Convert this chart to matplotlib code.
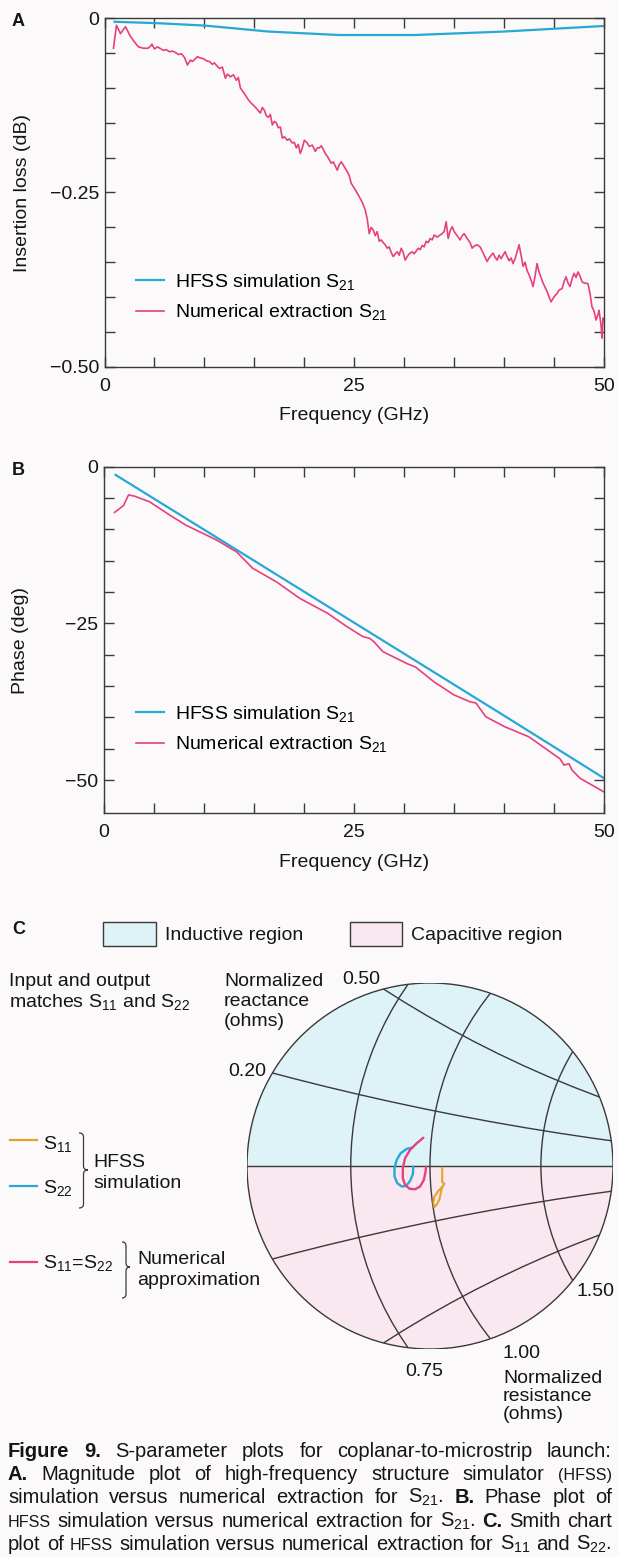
import numpy as np
import matplotlib
matplotlib.use('Agg')
import matplotlib.pyplot as plt
from matplotlib.patches import Circle, Rectangle, Wedge, PathPatch
from matplotlib.path import Path
from matplotlib.lines import Line2D
from matplotlib.ticker import FixedLocator, FixedFormatter

W, H = 619, 1557
plt.rcParams['font.family'] = ['Liberation Sans', 'DejaVu Sans']
plt.rcParams['mathtext.fontset'] = 'custom'
plt.rcParams['mathtext.rm'] = 'Liberation Sans'
plt.rcParams['mathtext.it'] = 'Liberation Sans:italic'
plt.rcParams['mathtext.bf'] = 'Liberation Sans:bold'

BG = '#fcf9fb'
CYAN = '#27a8d5'
PINK = '#e6407f'
ORANGE = '#e4a328'
INK = '#151515'
GRID = '#3a3a3a'
IND_FILL = '#ddf3f7'
CAP_FILL = '#fae8f1'
FS = 14

# ---------------- data ----------------
# Panel A: insertion loss (dB)
freq_hfss_a = [1.0, 5.3, 10.1, 16.4, 23.5, 31.0, 40.0, 50.0]
il_hfss = [-0.005, -0.007, -0.0105, -0.019, -0.024, -0.024, -0.019, -0.011]

freq_num_a = [0.9, 1.2, 1.6, 2.1, 2.6, 3.0, 3.4, 3.9, 4.35, 4.6, 4.74, 5.0, 5.3, 5.9, 6.2, 6.5,
              6.8, 7.1, 7.4, 7.7, 8.0, 8.3, 8.6, 8.8, 9.1, 9.3, 9.6, 9.9, 10.2, 10.5, 10.8,
              11.0, 11.3, 11.5, 11.8, 12.1, 12.3, 12.6, 12.9, 13.2, 13.4, 13.6, 14.0, 14.4,
              14.7, 15.0, 15.3, 15.6, 15.8, 16.0, 16.2, 16.4, 16.6, 16.8, 17.0, 17.2, 17.4,
              17.6, 17.8, 18.0, 18.3, 18.5, 18.8, 19.0, 19.2, 19.4, 19.6, 19.8, 20.0, 20.3,
              20.5, 20.8, 21.1, 21.3, 21.5, 21.7, 21.9, 22.1, 22.3, 22.5, 22.7, 22.9, 23.1,
              23.3, 23.5, 23.7, 24.0, 24.3, 24.5, 24.7, 25.1, 25.5, 25.8, 26.1, 26.3, 26.5,
              26.7, 26.9, 27.1, 27.3, 27.5, 27.7, 27.9, 28.1, 28.3, 28.5, 28.7, 28.9, 29.1,
              29.3, 29.5, 29.7, 29.9, 30.1, 30.3, 30.5, 30.8, 31.0, 31.2, 31.4, 31.6, 31.8,
              32.0, 32.2, 32.4, 32.6, 32.8, 33.0, 33.3, 33.6, 33.8, 34.0, 34.2, 34.4, 34.6,
              34.8, 35.0, 35.2, 35.4, 35.6, 35.8, 36.0, 36.3, 36.6, 36.8, 37.0, 37.3, 37.6,
              37.8, 38.0, 38.3, 38.5, 38.7, 38.9, 39.1, 39.3, 39.5, 39.7, 40.1, 40.3, 40.5,
              40.7, 40.9, 41.1, 41.3, 41.5, 41.7, 41.9, 42.1, 42.3, 42.5, 42.7, 42.9, 43.1,
              43.3, 43.5, 43.7, 43.9, 44.1, 44.3, 44.5, 44.7, 44.9, 45.1, 45.3, 45.5, 45.8,
              46.0, 46.2, 46.4, 46.6, 46.8, 47.0, 47.2, 47.4, 47.6, 47.8, 48.0, 48.2, 48.4,
              48.6, 48.8, 49.0, 49.2, 49.4, 49.5, 49.7, 49.8, 49.9, 50.0]
il_num = [-0.043, -0.010, -0.022, -0.012, -0.026, -0.034, -0.041, -0.043, -0.043, -0.040, -0.037,
          -0.044, -0.041, -0.046, -0.045, -0.048, -0.047, -0.049, -0.052, -0.051, -0.056, -0.067,
          -0.060, -0.062, -0.058, -0.055, -0.057, -0.058, -0.061, -0.062, -0.066, -0.064, -0.069,
          -0.072, -0.070, -0.086, -0.080, -0.084, -0.081, -0.089, -0.085, -0.100, -0.108, -0.117,
          -0.122, -0.126, -0.131, -0.136, -0.128, -0.132, -0.140, -0.142, -0.138, -0.153, -0.148,
          -0.150, -0.157, -0.156, -0.172, -0.170, -0.175, -0.173, -0.179, -0.178, -0.186, -0.181,
          -0.194, -0.186, -0.175, -0.179, -0.184, -0.182, -0.191, -0.186, -0.186, -0.183, -0.188,
          -0.194, -0.198, -0.203, -0.208, -0.206, -0.212, -0.218, -0.210, -0.206, -0.213, -0.220,
          -0.226, -0.237, -0.246, -0.256, -0.264, -0.275, -0.288, -0.309, -0.300, -0.304, -0.312,
          -0.306, -0.320, -0.318, -0.322, -0.325, -0.330, -0.328, -0.336, -0.342, -0.338, -0.335,
          -0.340, -0.330, -0.336, -0.347, -0.342, -0.338, -0.335, -0.338, -0.334, -0.330, -0.332,
          -0.326, -0.328, -0.320, -0.322, -0.316, -0.318, -0.311, -0.314, -0.311, -0.309, -0.306,
          -0.292, -0.316, -0.305, -0.299, -0.306, -0.310, -0.314, -0.318, -0.312, -0.309, -0.316,
          -0.322, -0.330, -0.327, -0.325, -0.328, -0.334, -0.340, -0.349, -0.344, -0.340, -0.337,
          -0.343, -0.347, -0.340, -0.345, -0.335, -0.342, -0.348, -0.344, -0.352, -0.345, -0.335,
          -0.325, -0.340, -0.356, -0.350, -0.362, -0.368, -0.376, -0.385, -0.370, -0.352, -0.364,
          -0.372, -0.380, -0.386, -0.392, -0.400, -0.407, -0.402, -0.398, -0.395, -0.390, -0.388,
          -0.378, -0.371, -0.380, -0.385, -0.374, -0.366, -0.372, -0.364, -0.370, -0.378, -0.380,
          -0.380, -0.381, -0.395, -0.414, -0.420, -0.433, -0.425, -0.419, -0.440, -0.459, -0.430,
          -0.433]

# Panel B: phase (deg)
freq_hfss_b = [1.2, 10.0, 20.0, 30.0, 40.0, 50.0]
ph_hfss = [-1.3, -10.0, -19.9, -29.8, -39.7, -49.7]

freq_num_b = [1.1, 2.0, 2.5, 3.1, 4.6, 6.6, 8.2, 11.3, 13.3, 14.9, 17.3, 19.6, 22.4, 24.3, 25.9,
              26.6, 27.0, 27.9, 30.3, 31.2, 33.0, 35.0, 36.6, 37.2, 38.2, 40.1, 42.5, 44.8, 45.6,
              46.0, 46.5, 46.8, 47.6, 50.0]
ph_num = [-7.3, -6.2, -4.5, -4.7, -5.6, -7.7, -9.3, -11.7, -13.6, -16.2, -18.4, -21.0, -23.4,
          -25.5, -27.1, -27.4, -27.9, -29.5, -31.4, -32.0, -34.3, -36.4, -37.5, -37.7, -39.9,
          -41.5, -43.1, -45.7, -46.6, -47.6, -47.4, -48.4, -49.7, -51.9]

# Panel C: reflection coefficients (real, imag)
s22_hfss_re = [-0.032, -0.042, -0.053, -0.060, -0.064, -0.064, -0.059, -0.051, -0.043, -0.036, -0.031, -0.030]
s22_hfss_im = [0.033, 0.031, 0.023, 0.011, -0.004, -0.019, -0.031, -0.037, -0.036, -0.027, -0.015, -0.001]
s_num_re = [-0.012, -0.024, -0.036, -0.045, -0.049, -0.049, -0.045, -0.037, -0.027, -0.018, -0.011, -0.008, -0.007]
s_num_im = [0.051, 0.041, 0.029, 0.014, -0.004, -0.022, -0.034, -0.041, -0.042, -0.037, -0.025, -0.010, -0.001]
s11_hfss_re = [0.022, 0.022, 0.022, 0.026, 0.022, 0.015, 0.008, 0.006, 0.008, 0.012, 0.017, 0.020, 0.022]
s11_hfss_im = [-0.003, -0.016, -0.029, -0.032, -0.038, -0.045, -0.055, -0.066, -0.074, -0.070, -0.060, -0.046, -0.037]

r_circles = [0.75, 1.0, 1.5]
x_circles = [0.2, 0.5, -0.2, -0.5]

# ---------------- figure ----------------
fig = plt.figure(figsize=(W / 100, H / 100), dpi=100, facecolor=BG)


def fx(px):
    return px / W


def fy(py):
    return 1 - py / H


def ftext(x, y, s, **kw):
    kw.setdefault('color', INK)
    kw.setdefault('fontsize', FS)
    kw.setdefault('va', 'baseline')
    return fig.text(fx(x), fy(y), s, **kw)


def style_axes(ax, xt, xl, yt, yl, ylim):
    ax.set_facecolor('none')
    ax.set_xlim(0, 50)
    ax.set_ylim(*ylim)
    ax.xaxis.set_major_locator(FixedLocator(xt))
    ax.xaxis.set_major_formatter(FixedFormatter(xl))
    ax.yaxis.set_major_locator(FixedLocator(yt))
    ax.yaxis.set_major_formatter(FixedFormatter(yl))
    ax.tick_params(direction='in', length=7, width=1.0, color=GRID, labelsize=FS,
                   labelcolor=INK, top=True, right=True, pad=8)
    ax.tick_params(axis='y', pad=4)
    for sp in ax.spines.values():
        sp.set_color(GRID)
        sp.set_linewidth(1.0)


xt = list(range(0, 51, 5))
xl = ['0' if v == 0 else '25' if v == 25 else '50' if v == 50 else '' for v in xt]


def legend(ax, ycen):
    ax.legend(loc='center left', bbox_to_anchor=(fx(136), fy(ycen)), bbox_transform=fig.transFigure,
              frameon=False, fontsize=FS, handlelength=1.45, handletextpad=0.55,
              labelspacing=0.55, borderpad=0, borderaxespad=0)


# Panel A
axA = fig.add_axes([fx(104.5), fy(366.7), (604 - 104.5) / W, (366.7 - 18.3) / H])
ytA = [-0.05 * i for i in range(11)]
ylA = ['0' if i == 0 else '\u22120.25' if i == 5 else '\u22120.50' if i == 10 else '' for i in range(11)]
style_axes(axA, xt, xl, ytA, ylA, (-0.5, 0.0))
axA.plot(freq_hfss_a, il_hfss, color=CYAN, lw=1.6, label='HFSS simulation S$_{21}$')
axA.plot(freq_num_a, il_num, color=PINK, lw=1.2, label='Numerical extraction S$_{21}$')
axA.set_xlabel('Frequency (GHz)', fontsize=FS, color=INK)
axA.set_ylabel('Insertion loss (dB)', fontsize=FS, color=INK)
axA.xaxis.set_label_coords(0.5, (366.7 - 416) / 348.4)
axA.xaxis.label.set_va('center')
axA.yaxis.set_label_coords((23 - 104.5) / 499.5, 0.5)
axA.yaxis.label.set_va('center')
legend(axA, 297)
ftext(12, 26, 'A', fontweight='bold', fontsize=13)

# Panel B
axB = fig.add_axes([fx(103.5), fy(813.3), (604 - 103.5) / W, (813.3 - 466.7) / H])
ytB = [-5 * i for i in range(11)]
ylB = ['0' if i == 0 else '\u221225' if i == 5 else '\u221250' if i == 10 else '' for i in range(11)]
style_axes(axB, xt, xl, ytB, ylB, (-55.3, 0.0))
axB.plot(freq_hfss_b, ph_hfss, color=CYAN, lw=1.6, label='HFSS simulation S$_{21}$')
axB.plot(freq_num_b, ph_num, color=PINK, lw=1.2, label='Numerical extraction S$_{21}$')
axB.set_xlabel('Frequency (GHz)', fontsize=FS, color=INK)
axB.set_ylabel('Phase (deg)', fontsize=FS, color=INK)
axB.xaxis.set_label_coords(0.5, (813.3 - 862) / 346.6)
axB.xaxis.label.set_va('center')
axB.yaxis.set_label_coords((21 - 103.5) / 500.5, 0.5)
axB.yaxis.label.set_va('center')
legend(axB, 729)
ftext(12, 475, 'B', fontweight='bold', fontsize=13)

# Panel C: Smith chart view
R = 0.33
cx_px, cy_px, rad_px = 430, 1166, 183
axC = fig.add_axes([fx(cx_px - rad_px), fy(cy_px + rad_px), 2 * rad_px / W, 2 * rad_px / H])
axC.set_xlim(-R, R)
axC.set_ylim(-R, R)
axC.axis('off')
clip = Circle((0, 0), R, transform=axC.transData)
axC.add_patch(Wedge((0, 0), R, 0, 180, facecolor=IND_FILL, edgecolor='none'))
axC.add_patch(Wedge((0, 0), R, 180, 360, facecolor=CAP_FILL, edgecolor='none'))
for r in r_circles:
    c = Circle((r / (1 + r), 0), 1 / (1 + r), fill=False, edgecolor=GRID, lw=1.0)
    axC.add_patch(c)
    c.set_clip_path(clip)
for xv in x_circles:
    c = Circle((1, 1 / xv), 1 / abs(xv), fill=False, edgecolor=GRID, lw=1.0)
    axC.add_patch(c)
    c.set_clip_path(clip)
hl, = axC.plot([-1, 1], [0, 0], color=GRID, lw=1.0)
hl.set_clip_path(clip)
axC.add_patch(Circle((0, 0), R, fill=False, edgecolor=GRID, lw=1.0))
axC.plot(s22_hfss_re, s22_hfss_im, color=CYAN, lw=1.7, solid_capstyle='round')
axC.plot(s_num_re, s_num_im, color=PINK, lw=1.7, solid_capstyle='round')
axC.plot(s11_hfss_re, s11_hfss_im, color=ORANGE, lw=1.5, solid_capstyle='round')

ftext(12, 934, 'C', fontweight='bold', fontsize=13)
fig.add_artist(Rectangle((fx(103), fy(946)), 53 / W, 24 / H, transform=fig.transFigure,
                         facecolor=IND_FILL, edgecolor=GRID, lw=1.0))
ftext(165, 940, 'Inductive region')
fig.add_artist(Rectangle((fx(350), fy(946)), 52 / W, 24 / H, transform=fig.transFigure,
                         facecolor=CAP_FILL, edgecolor=GRID, lw=1.0))
ftext(411, 940, 'Capacitive region')

ftext(9, 986, 'Input and output')
ftext(9, 1007, 'matches S$_{11}$ and S$_{22}$')
ftext(224, 986, 'Normalized')
ftext(224, 1006, 'reactance')
ftext(224, 1026, '(ohms)')
ftext(342, 984, '0.50')
ftext(228, 1076, '0.20')
ftext(576, 1296, '1.50')
ftext(405, 1376, '0.75')
ftext(503, 1358, '1.00')
ftext(503, 1383, 'Normalized')
ftext(503, 1401, 'resistance')
ftext(503, 1419, '(ohms)')

# left legend
for yy, col in [(1140, ORANGE), (1186, CYAN), (1262, PINK)]:
    fig.add_artist(Line2D([fx(10), fx(37)], [fy(yy), fy(yy)], color=col, lw=1.6,
                          transform=fig.transFigure))
ftext(43, 1149, 'S$_{11}$')
ftext(43, 1193, 'S$_{22}$')
ftext(43, 1268, 'S$_{11}$=S$_{22}$')
ftext(93, 1167, 'HFSS')
ftext(93, 1188, 'simulation')
ftext(137, 1264, 'Numerical')
ftext(137, 1285, 'approximation')


def brace(x0, x1, ytop, ybot, ytip):
    xm = (x0 + x1) / 2
    d = 4
    pts = [(x0, ytop), (xm, ytop), (xm, ytop + d), (xm, ytop + d),
           (xm, ytip - d), (xm, ytip), (x1, ytip),
           (xm, ytip), (xm, ytip + d), (xm, ytip + d),
           (xm, ybot - d), (xm, ybot), (x0, ybot)]
    codes = [Path.MOVETO, Path.CURVE3, Path.CURVE3, Path.LINETO,
             Path.LINETO, Path.CURVE3, Path.CURVE3,
             Path.CURVE3, Path.CURVE3, Path.LINETO,
             Path.LINETO, Path.CURVE3, Path.CURVE3]
    verts = [(fx(a), fy(b)) for a, b in pts]
    fig.add_artist(PathPatch(Path(verts, codes), transform=fig.transFigure,
                             fill=False, edgecolor=GRID, lw=0.9))


brace(79, 88, 1133, 1208, 1170)
brace(122, 130, 1242, 1298, 1267)

# caption (justified)
renderer = fig.canvas.get_renderer()
CAP_SIZE = 14.5


def justify(tokens, ybase, x0=8, x1=612, size=CAP_SIZE):
    while True:
        texts, widths = [], []
        for s, st in tokens:
            kw = dict(fontsize=size * (0.8 if st == 's' else 1.0),
                      fontweight='bold' if st == 'b' else 'normal')
            t = ftext(0, ybase, s, **kw)
            texts.append(t)
            widths.append(t.get_window_extent(renderer).width)
        gap = (x1 - x0 - sum(widths)) / (len(tokens) - 1)
        if gap >= 3.5 or size < 8:
            break
        for t in texts:
            t.remove()
        size -= 0.2
    x = x0
    for t, w in zip(texts, widths):
        t.set_x(fx(x))
        x += w + gap


n = 'n'
cap_lines = [
    [('Figure', 'b'), ('9.', 'b'), ('S-parameter', n), ('plots', n), ('for', n),
     ('coplanar-to-microstrip', n), ('launch:', n)],
    [('A.', 'b'), ('Magnitude', n), ('plot', n), ('of', n), ('high-frequency', n),
     ('structure', n), ('simulator', n), ('(HFSS)', 's')],
    [('simulation', n), ('versus', n), ('numerical', n), ('extraction', n), ('for', n),
     ('S$_{21}$.', n), ('B.', 'b'), ('Phase', n), ('plot', n), ('of', n)],
    [('HFSS', 's'), ('simulation', n), ('versus', n), ('numerical', n), ('extraction', n),
     ('for', n), ('S$_{21}$.', n), ('C.', 'b'), ('Smith', n), ('chart', n)],
    [('plot', n), ('of', n), ('HFSS', 's'), ('simulation', n), ('versus', n), ('numerical', n),
     ('extraction', n), ('for', n), ('S$_{11}$', n), ('and', n), ('S$_{22}$.', n)],
]
for i, line in enumerate(cap_lines):
    justify(line, [1457, 1480, 1503, 1527, 1550][i])

fig.savefig('out.png', dpi=100, facecolor=BG)
